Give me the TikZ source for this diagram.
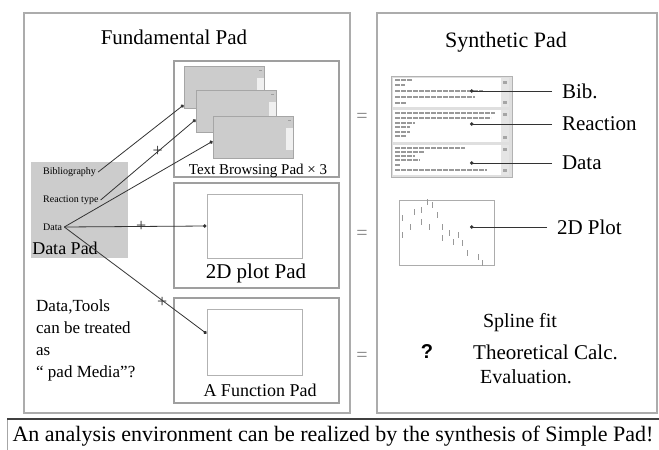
\documentclass[tikz,border=0pt]{standalone}
\usepackage{fontspec}
\setmainfont{Liberation Serif}
\newfontfamily\qfont{Liberation Sans}
\usetikzlibrary{arrows.meta}

\tikzset{
    fs/.style={font=\fontsize{#1}{#1}\selectfont},
    panel/.style={draw=gray!65, line width=1.6pt},
    subpad/.style={draw=gray!75, line width=1.1pt},
    frame/.style={draw=gray!60, line width=1pt, minimum width=95pt, inner sep=0pt},
    win/.style={
        draw=gray!70, fill=gray!40, line width=.8pt,
        minimum width=80pt, minimum height=42pt, inner sep=0pt,
        path picture={
            \fill[gray!12] ([xshift=-7pt,yshift=-12pt]path picture bounding box.north east)
                rectangle ([yshift=8pt]path picture bounding box.south east);
            \draw[gray!75, line width=.6pt] ([xshift=-5pt,yshift=-4pt]path picture bounding box.north east)
                -- ++(3pt,0pt);
        }
    },
    link/.style={draw=black!80, line width=.8pt, -{Circle[length=3.5pt]}},
    plus/.style={fs=18, inner sep=0pt, text=black!80},
    tag/.style={fs=21, anchor=west, inner sep=0pt, outer sep=10pt},
    eq/.style={fs=20, text=black!50}
}

\begin{document}
\begin{tikzpicture}[x=1pt, y=-1pt]
    \useasboundingbox (0,0) rectangle (659,450);

    \draw[panel] (24,13) rectangle (350,413);
    \draw[panel] (377,13) rectangle (657,413);
    \draw[gray!70, line width=1pt] (7,460) -- (7,419) -- (659,419);
    \draw[black!75, line width=2pt] (7,419) -- (659,419);

    \node[fs=21] (fund) at (174,37) {Fundamental Pad};
    \node[fs=22] (synth) at (506,42) {Synthetic Pad};

    \draw[subpad] (174,61) rectangle (339,177);
    \draw[subpad] (174,183) rectangle (339,288);
    \draw[subpad] (174,298) rectangle (339,403);

    \node[win] (w1) at (224,87) {};
    \node[win] (w2) at (236,111) {};
    \node[win] (w3) at (253,137) {};
    \node[fs=15] (tbp) at (258,171) {Text Browsing Pad × 3};

    \node[frame, minimum height=64pt] (plotbox) at (254.5,226) {};
    \node[fs=21] (plotpad) at (256,273) {2D plot Pad};
    \node[frame, minimum height=66pt] (funcbox) at (254.5,342) {};
    \node[fs=18] (funcpad) at (260,390) {A Function Pad};

    \node[fill=gray!40, minimum width=97pt, minimum height=96pt, inner sep=0pt] (datapad) at (79.5,210) {};
    \node[fs=10, anchor=west, inner sep=2pt] (bib) at (41,172) {Bibliography};
    \node[fs=10, anchor=west, inner sep=2pt] (rtype) at (41,200) {Reaction type};
    \node[fs=10, anchor=west, inner sep=2pt] (dat) at (41,227) {Data};
    \node[fs=18] (dplabel) at (65,248) {Data Pad};

    \draw[link] (bib.east) -- (w1.204);
    \draw[link] (rtype.east) -- node[plus, pos=.6] {+} (w2.192);
    \draw[link] (dat.east) -- (w3.186);
    \draw[link] (dat.east) -- node[plus, pos=.54] {+} (plotbox.west);
    \draw[link] (dat.east) -- node[plus, pos=.66, yshift=-5pt, xshift=4pt] {+} (funcbox.170);

    \node[anchor=north west, align=left, inner sep=0pt, font=\fontsize{17}{22}\selectfont] (note) at (36,299)
        {Data,Tools\\can be treated\\as\\“ pad Media”?};

    \node[eq] (eq1) at (362,118) {=};
    \node[eq] (eq2) at (362,235) {=};
    \node[eq] (eq3) at (362,357) {=};

    \node[draw=gray!60, fill=gray!25, line width=.8pt, minimum width=121pt, minimum height=101pt, inner sep=0pt] (synwin) at (451.5,126.5) {};
    \foreach \ya/\yb in {78/107, 110/142, 145/175} {
        \fill[white] (393,\ya) rectangle (509,\yb);
        \fill[gray!20] (501,\ya) rectangle (509,\yb);
        \fill[gray!70] (503,\ya+3) rectangle (507,\ya+6);
        \fill[gray!70] (503,\yb-6) rectangle (507,\yb-3);
    }
    \foreach \y/\len in {80/18, 85/10, 91/88, 97/80, 103/12,
                         113/100, 118/96, 123/20, 127/15, 132/15, 136/12,
                         148/70, 152/30, 156/20, 160/25, 165/5, 170/92} {
        \draw[black!40, line width=1.1pt, dash pattern=on 5pt off 1pt] (395,\y) -- ++(\len,0);
    }

    \node[draw=gray!65, line width=1pt, minimum width=95pt, minimum height=65pt, inner sep=0pt] (synplot) at (446.5,232.5) {};
    \foreach \px/\py in {402/218, 402/235, 410/227, 414/212, 421/210, 421/222, 427/202,
                         429/227, 432/205, 437/215, 442/227, 442/238, 449/233, 453/242,
                         458/235, 462/243, 467/253, 478/257, 482/263} {
        \draw[gray!80, line width=.7pt] (\px,\py-3) -- (\px,\py+3);
    }

    \coordinate (sBib) at (470,91);
    \coordinate (sReac) at (470,124);
    \coordinate (sData) at (470,163);
    \coordinate (sPlot) at (470,227);

    \node[tag] (tBib) at (552,91) {Bib.};
    \node[tag] (tReac) at (552,124) {Reaction};
    \node[tag] (tData) at (552,163) {Data};
    \node[tag] (tPlot) at (547,227) {2D Plot};

    \draw[link] (tBib.west) -- (sBib);
    \draw[link] (tReac.west) -- (sReac);
    \draw[link] (tData.west) -- (sData);
    \draw[link] (tPlot.west) -- (sPlot);

    \node[fs=20] (spline) at (520,323) {Spline fit};
    \node[font=\qfont\bfseries\fontsize{20}{20}\selectfont] (quest) at (427,352) {?};
    \node[fs=21, anchor=west, inner sep=0pt] (theo) at (473,352) {Theoretical Calc.};
    \node[fs=20, anchor=west, inner sep=0pt] (evalu) at (480,377) {Evaluation.};

    \node[fs=22] (summary) at (333,436) {An analysis environment can be realized by the synthesis of Simple Pad!};
\end{tikzpicture}
\end{document}
